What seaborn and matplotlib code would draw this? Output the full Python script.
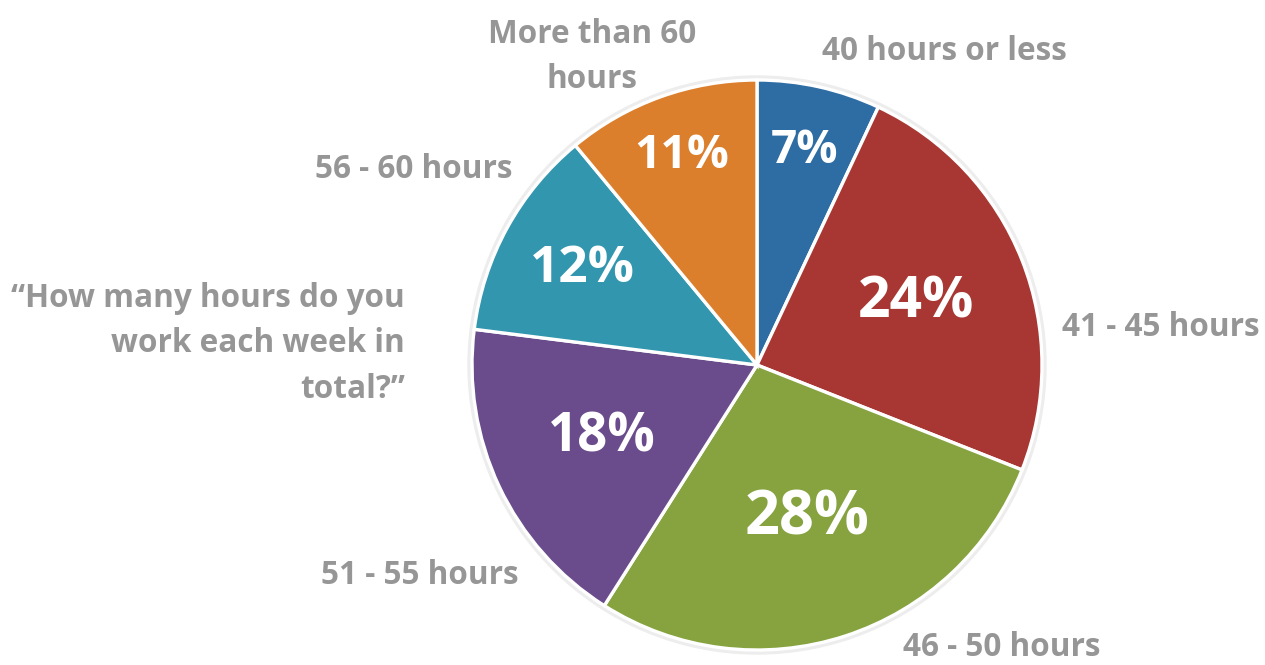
import matplotlib
matplotlib.use("Agg")
import matplotlib.pyplot as plt
import seaborn as sns
import numpy as np

# Survey answers: weekly working hours
categories = ["40 hours or less", "41 - 45 hours", "46 - 50 hours",
              "51 - 55 hours", "56 - 60 hours", "More than 60\nhours"]
shares = [7, 24, 28, 18, 12, 11]
slice_colors = ["#2E6CA4", "#A83733", "#86A33F", "#6A4C8C", "#3196AE", "#DB7F2D"]

question = "\u201cHow many hours do you\nwork each week in\ntotal?\u201d"

sns.set_theme(style="white")
plt.rcParams["font.family"] = ["Open Sans", "DejaVu Sans"]

W, H = 1265, 665
fig = plt.figure(figsize=(W / 100, H / 100), dpi=100)
ax = fig.add_axes([0, 0, 1, 1])

cx, cy, R = 757, 300, 285
palette = sns.color_palette(slice_colors)

# faint halo around the pie
ax.add_patch(plt.Circle((cx, cy), R + 4, color="#EDEDED", zorder=0))

wedges, _ = ax.pie(shares, colors=palette, startangle=90, counterclock=False,
                   center=(cx, cy), radius=R, frame=True,
                   wedgeprops=dict(edgecolor="white", linewidth=2.4))
ax.set_xlim(0, W)
ax.set_ylim(0, H)
ax.set_aspect("equal")
ax.axis("off")

# percentage labels inside the slices
pct_radius = [0.77, 0.60, 0.57, 0.60, 0.70, 0.78]
pct_size = [33, 41, 44, 38, 37, 33.5]
for w, v, rf, fs in zip(wedges, shares, pct_radius, pct_size):
    mid = np.deg2rad((w.theta1 + w.theta2) / 2)
    ax.text(cx + rf * R * np.cos(mid), cy + rf * R * np.sin(mid), f"{v}%",
            ha="center", va="center", color="white", fontsize=fs,
            fontweight="bold", zorder=5)

# category labels around the pie
grey = "#969696"
label_fs = 22.7
label_pos = [(944, 614), (1161, 337), (1002, 17), (420, 90), (414, 495), (592, 608)]
for name, (x, y) in zip(categories, label_pos):
    ax.text(x, y, name, ha="center", va="center", color=grey, fontsize=label_fs,
            fontweight="bold", linespacing=1.5)

ax.text(405, 321, question, ha="right", va="center", color=grey, fontsize=label_fs,
        fontweight="bold", linespacing=1.5)

fig.savefig("out.png", dpi=100)
